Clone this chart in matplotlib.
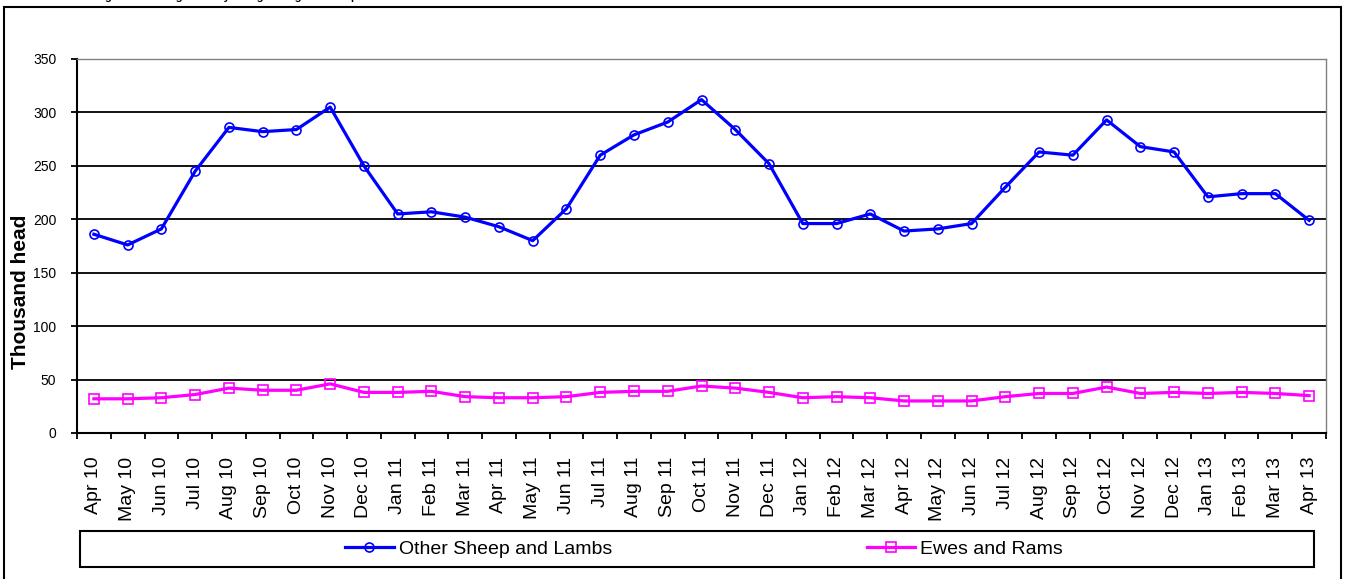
import numpy as np
import matplotlib.pyplot as plt
from matplotlib.patches import Rectangle

plt.rcParams['font.family'] = ['Liberation Sans', 'DejaVu Sans']

# monthly categories, Apr 2010 - Apr 2013
months = ['Apr 10', 'May 10', 'Jun 10', 'Jul 10', 'Aug 10', 'Sep 10', 'Oct 10', 'Nov 10',
          'Dec 10', 'Jan 11', 'Feb 11', 'Mar 11', 'Apr 11', 'May 11', 'Jun 11', 'Jul 11',
          'Aug 11', 'Sep 11', 'Oct 11', 'Nov 11', 'Dec 11', 'Jan 12', 'Feb 12', 'Mar 12',
          'Apr 12', 'May 12', 'Jun 12', 'Jul 12', 'Aug 12', 'Sep 12', 'Oct 12', 'Nov 12',
          'Dec 12', 'Jan 13', 'Feb 13', 'Mar 13', 'Apr 13']

# thousand head
other_sheep = [186, 176, 191, 245, 286, 282, 284, 305, 250, 205, 207, 202, 193, 180, 210, 260,
               279, 291, 312, 284, 252, 196, 196, 205, 189, 191, 196, 230, 263, 260, 293, 268,
               263, 221, 224, 224, 199]
ewes_rams = [32, 32, 33, 36, 42, 40, 40, 46, 38, 38, 39, 34, 33, 33, 34, 38,
             39, 39, 44, 42, 38, 33, 34, 33, 30, 30, 30, 34, 37, 37, 43, 37,
             38, 37, 38, 37, 35]

W, H = 1348, 579


def fx(px):
    return px / W


def fy(py):
    return 1 - py / H


fig = plt.figure(figsize=(W / 100, H / 100), dpi=100)
ax = fig.add_axes([fx(77), fy(433), fx(1326) - fx(77), fy(59) - fy(433)])

x = np.arange(len(months))
ax.plot(x, other_sheep, color='#0000FF', lw=2.3, marker='o', ms=6.5, mfc='none', mew=1.2,
        label='Other Sheep and Lambs', zorder=3)
ax.plot(x, ewes_rams, color='#FF00FF', lw=2.3, marker='s', ms=6.5, mfc='none', mew=1.2,
        label='Ewes and Rams', zorder=3)

ax.set_xlim(-0.5, len(months) - 0.5)
ax.set_ylim(0, 350)
ax.set_yticks(range(0, 351, 50))
for v in range(50, 301, 50):
    ax.axhline(v, color='black', lw=1.3, zorder=1)

# ticks on category boundaries, labels in the middle
ax.set_xticks(np.arange(len(months) + 1) - 0.5)
ax.set_xticklabels([])
ax.set_xticks(x, minor=True)
ax.set_xticklabels(months, minor=True, rotation=90, fontsize=14)
ax.tick_params(axis='x', which='minor', length=0, pad=17)
ax.tick_params(axis='x', which='major', length=4, width=1.3, direction='out')
ax.tick_params(axis='y', length=4, width=1.3, direction='out', labelsize=10, pad=11)

for s in ['left', 'bottom']:
    ax.spines[s].set_color('black')
    ax.spines[s].set_linewidth(1.5)
for s in ['right', 'top']:
    ax.spines[s].set_color('#808080')
    ax.spines[s].set_linewidth(1.0)

fig.text(fx(21), fy(292), 'Thousand head', rotation=90, fontsize=15, fontweight='bold',
         ha='center', va='center')

# title is cut off at the top of the image
fig.text(fx(95), 1.0, 'Figure 2: Average Weekly Slaughterings of Sheep', fontsize=8,
         fontweight='bold', ha='left', va='baseline')

# outer chart border
fig.add_artist(Rectangle((fx(4), fy(620)), fx(1341) - fx(4), fy(7) - fy(620),
                         transform=fig.transFigure, fill=False, ec='black', lw=1.5))

# legend box + entries
fig.add_artist(Rectangle((fx(80), fy(567)), fx(1314) - fx(80), fy(531) - fy(567),
                         transform=fig.transFigure, fill=False, ec='black', lw=1.5))
fig.legend(loc='center', bbox_to_anchor=(fx(704), fy(549)), ncol=2, frameon=False,
           fontsize=14, handlelength=2.5, handletextpad=0.26, columnspacing=13.1,
           borderpad=0, borderaxespad=0)

fig.savefig('out.png', dpi=100)
